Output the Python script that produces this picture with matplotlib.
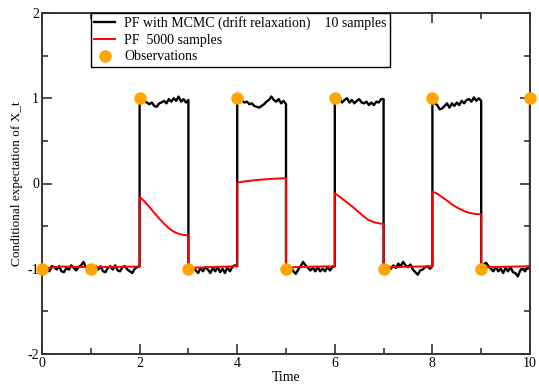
import numpy as np
import matplotlib
matplotlib.use("Agg")
import matplotlib.pyplot as plt
from matplotlib.lines import Line2D
from matplotlib.ticker import MultipleLocator

plt.rcParams['font.family'] = ['Liberation Serif', 'DejaVu Serif']
plt.rcParams['axes.unicode_minus'] = False

# Observations (time, value)
obs_t = [0, 1, 2, 3, 4, 5, 6, 7, 8, 9, 10]
obs_y = [-1, -1, 1, -1, 1, -1, 1, -1, 1, -1, 1]

# PF with MCMC (10 samples): values read every 0.05 within each unit interval [k, k+1]
mcmc_segments = [
    [-1.00, -1.03, -0.98, -1.03, -0.97, -0.98, -1.01, -0.97, -1.03, -1.04, -0.99,
     -1.01, -0.96, -0.99, -1.02, -0.98, -0.96, -0.92, -0.98, -1.02, -1.03],
    [-1.03, -0.98, -0.97, -1.01, -0.97, -1.03, -1.04, -0.99, -0.97, -1.01, -0.96,
     -1.02, -1.03, -0.98, -0.97, -1.01, -1.03, -1.05, -1.00, -0.98, -0.97],
    [0.98, 0.95, 0.96, 0.95, 0.93, 0.95, 0.91, 0.90, 0.94, 0.95, 0.97,
     0.94, 0.99, 0.96, 1.00, 0.97, 1.02, 0.96, 0.99, 0.95, 0.98],
    [-1.01, -1.04, -0.99, -1.02, -1.05, -0.99, -1.03, -0.98, -1.01, -1.05, -0.99,
     -1.03, -0.98, -1.04, -1.00, -1.05, -0.98, -1.03, -0.98, -0.96, -0.97],
    [0.99, 0.96, 0.97, 0.95, 0.96, 0.93, 0.94, 0.91, 0.90, 0.89, 0.91,
     0.93, 0.96, 0.98, 1.02, 0.98, 0.96, 0.99, 0.94, 0.97, 0.93],
    [-0.99, -1.02, -0.98, -1.03, -1.06, -1.01, -0.97, -0.92, -0.96, -0.99, -1.02,
     -0.99, -1.03, -0.98, -1.03, -1.00, -1.03, -0.98, -1.02, -0.98, -0.97],
    [0.99, 0.96, 0.99, 0.95, 0.98, 1.00, 0.95, 0.98, 0.94, 0.97, 0.99,
     0.95, 0.94, 0.96, 0.92, 0.95, 0.92, 0.96, 0.95, 0.99, 0.99],
    [-0.99, -1.01, -0.97, -1.00, -0.96, -0.99, -0.94, -0.97, -0.92, -0.96, -0.98,
     -0.95, -1.01, -1.04, -1.07, -1.02, -1.01, -0.98, -0.97, -1.00, -0.97],
    [0.97, 0.94, 0.92, 0.87, 0.88, 0.91, 0.94, 0.89, 0.94, 0.91, 0.95,
     0.92, 0.97, 0.94, 0.98, 0.99, 0.96, 1.01, 0.97, 1.00, 0.97],
    [-0.98, -0.95, -0.93, -0.97, -1.00, -1.03, -0.98, -1.03, -1.00, -1.05, -0.99,
     -1.03, -0.98, -1.04, -1.05, -1.09, -1.02, -1.00, -1.03, -0.98, -0.97],
]
mcmc_final = 1.0  # value right at t = 10

# PF 5000 samples: values read every 0.1 within each unit interval [k, k+1]
pf_segments = [
    [-1.00, -0.99, -0.985, -0.98, -0.975, -0.975, -0.975, -0.98, -0.98, -0.98, -0.98],
    [-0.98, -0.98, -0.98, -0.98, -0.98, -0.978, -0.978, -0.976, -0.976, -0.975, -0.975],
    [-0.155, -0.21, -0.275, -0.345, -0.41, -0.47, -0.525, -0.565, -0.59, -0.603, -0.61],
    [-0.99, -0.99, -0.985, -0.985, -0.98, -0.98, -0.978, -0.976, -0.975, -0.972, -0.97],
    [0.01, 0.02, 0.028, 0.035, 0.041, 0.046, 0.05, 0.054, 0.057, 0.06, 0.062],
    [-0.99, -0.985, -0.98, -0.98, -0.978, -0.976, -0.975, -0.974, -0.973, -0.972, -0.97],
    [-0.115, -0.155, -0.2, -0.245, -0.29, -0.34, -0.39, -0.43, -0.453, -0.467, -0.475],
    [-0.99, -0.985, -0.98, -0.98, -0.978, -0.976, -0.975, -0.974, -0.973, -0.972, -0.97],
    [-0.095, -0.12, -0.16, -0.2, -0.245, -0.28, -0.31, -0.335, -0.35, -0.358, -0.362],
    [-0.99, -0.985, -0.98, -0.98, -0.978, -0.976, -0.975, -0.974, -0.973, -0.972, -0.97],
]
pf_final = -0.2  # value right at t = 10

xticks = [0, 2, 4, 6, 8, 10]
yticks = [-2, -1, 0, 1, 2]

fig = plt.figure(figsize=(5.39, 3.84), dpi=100)
ax = fig.add_axes([42 / 539, 1 - 354 / 384, 488 / 539, 341 / 384])

# build piecewise traces
mt, my = [], []
for k, seg in enumerate(mcmc_segments):
    mt.extend(k + np.linspace(0, 1, len(seg)))
    my.extend(seg)
mt.append(10.0)
my.append(mcmc_final)

pt, py = [], []
for k, seg in enumerate(pf_segments):
    pt.extend(k + np.linspace(0, 1, len(seg)))
    py.extend(seg)
pt.append(10.0)
py.append(pf_final)

ax.plot(mt, my, color='black', lw=1.7, zorder=2)
ax.plot(pt, py, color='#ff0000', lw=1.4, zorder=3)
ax.plot(obs_t, obs_y, linestyle='none', marker='o', color='#ffa500',
        markersize=9, markeredgewidth=0, zorder=4, clip_on=False)

ax.set_xlim(0, 10)
ax.set_ylim(-2, 2)
ax.set_xticks(xticks)
ax.set_yticks(yticks)
ax.set_xticklabels([str(v) for v in xticks])
ax.set_yticklabels([str(v) for v in yticks])
ax.xaxis.set_minor_locator(MultipleLocator(1))
ax.yaxis.set_minor_locator(MultipleLocator(0.5))
ax.tick_params(which='both', direction='in', top=True, right=True,
               color='#333333', width=1.2, labelsize=10, pad=2)
ax.tick_params(which='major', length=7)
ax.tick_params(which='minor', length=4)
for s in ax.spines.values():
    s.set_linewidth(1.4)
    s.set_color('#333333')

ax.set_xlabel('Time', fontsize=10, labelpad=1)
ax.set_ylabel('Conditional expectation of X_t', fontsize=9.5, labelpad=3)

handles = [
    Line2D([], [], color='black', lw=1.7),
    Line2D([], [], color='#ff0000', lw=1.4),
    Line2D([], [], linestyle='none', marker='o', color='#ffa500', markersize=9, markeredgewidth=0),
]
labels = ['PF with MCMC (drift relaxation)    10 samples', 'PF  5000 samples', 'Observations']
leg = ax.legend(handles, labels, loc='upper left', bbox_to_anchor=(0.1, 1.0),
                borderaxespad=0, fontsize=10, handlelength=1.5, handletextpad=0.65,
                labelspacing=0.25, borderpad=0.25, fancybox=False, framealpha=1,
                edgecolor='black')
leg.get_frame().set_linewidth(1.0)

fig.savefig('out.png', dpi=100)
